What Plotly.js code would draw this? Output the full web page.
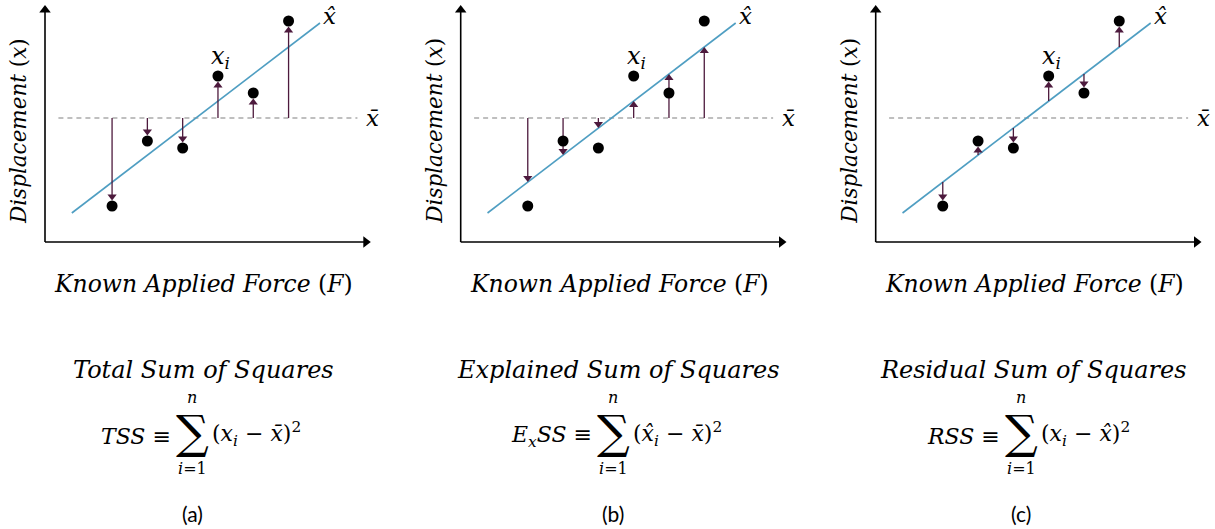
<!DOCTYPE html>
<html>
<head>
<meta charset="utf-8">
<script src="https://cdn.plot.ly/plotly-3.0.1.min.js"></script>
<style>
  html, body { margin: 0; padding: 0; background: #fff; }
  #chart { width: 1215px; height: 529px; }
</style>
</head>
<body>
<div id="chart"></div>
<script>
// Observations: known applied force and measured displacement
const force = [1.9, 2.9, 3.9, 4.9, 5.9, 6.9];
const displacement = [3.6, 10.1, 9.4, 16.6, 14.9, 22.1];
// Values on the fitted line at each force
const fitted = [6.0, 8.7, 11.4, 14.1, 16.8, 19.5];
// Mean displacement (x-bar)
const meanDisp = 12.4;
// Drawn extent of the regression line and of the mean line
const fitLineF = [0.76, 7.79];
const fitLineX = [2.9, 21.9];
const meanLineF = [0.38, 8.85];
// Axis arrow tips
const axisTipF = 9.23;
const axisTipX = 23.7;

const panelNames = ['Total Sum of Squares', 'Explained Sum of Squares', 'Residual Sum of Squares'];
const panelLhs = ['<i>TSS</i> ≡', '<i>E</i><sub><i>x</i></sub><i>SS</i> ≡', '<i>RSS</i> ≡'];
const panelRhs = [
  '(<i>x</i><sub><i>i</i></sub> − <i>x̄</i>)<sup>2</sup>',
  '(<i>x̂</i><sub><i>i</i></sub> − <i>x̄</i>)<sup>2</sup>',
  '(<i>x</i><sub><i>i</i></sub> − <i>x̂</i>)<sup>2</sup>'
];
const panelTags = ['(a)', '(b)', '(c)'];

const W = 1215, H = 529;
const PX_PER_F = 35.3, PX_PER_X = 10;
const X_RANGE = [-1.2, 9.4], Y_RANGE = [-1, 24];
const originPx = [45, 460.7, 875.7];   // left edge (F = 0) of each panel
const baselinePx = 242;                // X = 0 line

const SERIF = 'DejaVu Serif, serif';
const ARROW = '#4d1a3d';
const FIT = '#4f9ec2';
const HEAD = 8;        // deviation arrowhead marker size
const AXIS_HEAD = 10;  // axis arrowhead marker size
const DOT_GAP = 5.5;   // gap between an arrow tip and a dot, px

const px = v => v / W;
const py = v => 1 - v / H;

const data = [];
const annotations = [];
const layout = {
  width: W, height: H,
  margin: {l: 0, r: 0, t: 0, b: 0},
  paper_bgcolor: '#ffffff',
  plot_bgcolor: 'rgba(0,0,0,0)',
  showlegend: false,
  annotations: annotations
};

const hidden = {showgrid: false, zeroline: false, showticklabels: false, showline: false, ticks: '', fixedrange: true};

for (let p = 0; p < 3; p++) {
  const sfx = p === 0 ? '' : String(p + 1);
  const xa = 'x' + sfx, ya = 'y' + sfx;
  const o = originPx[p];
  layout['xaxis' + sfx] = Object.assign({}, hidden, {
    range: X_RANGE,
    domain: [px(o + X_RANGE[0] * PX_PER_F), px(o + X_RANGE[1] * PX_PER_F)],
    anchor: ya
  });
  layout['yaxis' + sfx] = Object.assign({}, hidden, {
    range: Y_RANGE,
    domain: [py(baselinePx - Y_RANGE[0] * PX_PER_X), py(baselinePx - Y_RANGE[1] * PX_PER_X)],
    anchor: xa
  });

  // axes: shafts and arrowheads
  const ahY = axisTipX - (AXIS_HEAD / 2) / PX_PER_X;
  const ahF = axisTipF - (AXIS_HEAD / 2) / PX_PER_F;
  data.push({
    type: 'scatter', mode: 'lines', xaxis: xa, yaxis: ya, cliponaxis: false,
    x: [0, 0, null, 0, ahF], y: [ahY, 0, null, 0, 0],
    line: {color: '#000', width: 1.6}, hoverinfo: 'skip'
  });
  data.push({
    type: 'scatter', mode: 'markers', xaxis: xa, yaxis: ya, cliponaxis: false,
    x: [0, ahF], y: [ahY, 0],
    marker: {symbol: ['triangle-up', 'triangle-right'], size: AXIS_HEAD, color: '#000', line: {width: 0}},
    hoverinfo: 'skip'
  });

  // mean line
  data.push({
    type: 'scatter', mode: 'lines', xaxis: xa, yaxis: ya,
    x: meanLineF, y: [meanDisp, meanDisp],
    line: {color: '#808080', width: 1.2, dash: '5px,4px'},
    hoverinfo: 'skip'
  });
  // regression line
  data.push({
    type: 'scatter', mode: 'lines', xaxis: xa, yaxis: ya,
    x: fitLineF, y: fitLineX,
    line: {color: FIT, width: 1.6},
    hoverinfo: 'skip'
  });

  // deviation arrows
  const sx = [], sy = [], hx = [], hy = [], hs = [];
  for (let i = 0; i < force.length; i++) {
    let tail, head, gap;
    if (p === 0) { tail = meanDisp; head = displacement[i]; gap = DOT_GAP; }
    else if (p === 1) { tail = meanDisp; head = fitted[i]; gap = 0; }
    else { tail = fitted[i]; head = displacement[i]; gap = DOT_GAP; }
    const dir = head >= tail ? 1 : -1;
    const tip = head - dir * gap / PX_PER_X;
    const centre = tip - dir * (HEAD / 2) / PX_PER_X;
    sx.push(force[i], force[i], null);
    sy.push(tail, centre, null);
    hx.push(force[i]);
    hy.push(centre);
    hs.push(dir > 0 ? 'triangle-up' : 'triangle-down');
  }
  data.push({
    type: 'scatter', mode: 'lines', xaxis: xa, yaxis: ya, cliponaxis: false,
    x: sx, y: sy, line: {color: ARROW, width: 1.3}, hoverinfo: 'skip'
  });
  data.push({
    type: 'scatter', mode: 'markers', xaxis: xa, yaxis: ya, cliponaxis: false,
    x: hx, y: hy, marker: {symbol: hs, size: HEAD, color: ARROW, line: {width: 0}},
    hoverinfo: 'skip'
  });

  // observations
  data.push({
    type: 'scatter', mode: 'markers', xaxis: xa, yaxis: ya,
    x: force, y: displacement, cliponaxis: false,
    marker: {color: '#000000', size: 11},
    hoverinfo: 'skip'
  });

  // in-plot labels
  annotations.push({
    xref: xa, yref: ya, x: 8.07, y: 22.6, text: '<i>x̂</i>', showarrow: false,
    font: {family: SERIF, size: 23, color: '#000'}, xanchor: 'center', yanchor: 'middle'
  });
  annotations.push({
    xref: xa, yref: ya, x: 9.28, y: meanDisp, text: '<i>x̄</i>', showarrow: false,
    font: {family: SERIF, size: 23, color: '#000'}, xanchor: 'center', yanchor: 'middle'
  });
  annotations.push({
    xref: xa, yref: ya, x: force[3] + 0.08, y: 18.5, text: '<i>x</i><sub><i>i</i></sub>', showarrow: false,
    font: {family: SERIF, size: 24, color: '#000'}, xanchor: 'center', yanchor: 'middle'
  });

  // axis titles
  annotations.push({
    xref: 'paper', yref: 'paper', x: px(o + 4.5 * PX_PER_F), y: py(284),
    text: '<i>Known Applied Force</i> (<i>F</i>)', showarrow: false,
    font: {family: SERIF, size: 23.5, color: '#000'}, xanchor: 'center', yanchor: 'middle'
  });
  annotations.push({
    xref: 'paper', yref: 'paper', x: px(o - 27), y: py(131),
    text: '<i>Displacement</i> (<i>x</i>)', showarrow: false, textangle: -90,
    font: {family: SERIF, size: 21.5, color: '#000'}, xanchor: 'center', yanchor: 'middle'
  });

  // formula block
  const cx = [203, 618, 1033][p];
  const sigmaX = [192, 613, 1021][p];
  annotations.push({
    xref: 'paper', yref: 'paper', x: px(cx), y: py(370), text: '<i>' + panelNames[p] + '</i>', showarrow: false,
    font: {family: SERIF, size: 24, color: '#000'}, xanchor: 'center', yanchor: 'middle'
  });
  annotations.push({
    xref: 'paper', yref: 'paper', x: px(sigmaX - 19), y: py(436), text: panelLhs[p], showarrow: false,
    font: {family: SERIF, size: 22, color: '#000'}, xanchor: 'right', yanchor: 'middle'
  });
  annotations.push({
    xref: 'paper', yref: 'paper', x: px(sigmaX), y: py(432), text: '∑', showarrow: false,
    font: {family: SERIF, size: 46, color: '#000'}, xanchor: 'center', yanchor: 'middle'
  });
  annotations.push({
    xref: 'paper', yref: 'paper', x: px(sigmaX + 18), y: py(434), text: panelRhs[p], showarrow: false,
    font: {family: SERIF, size: 22, color: '#000'}, xanchor: 'left', yanchor: 'middle'
  });
  annotations.push({
    xref: 'paper', yref: 'paper', x: px(sigmaX), y: py(397), text: '<i>n</i>', showarrow: false,
    font: {family: SERIF, size: 16, color: '#000'}, xanchor: 'center', yanchor: 'middle'
  });
  annotations.push({
    xref: 'paper', yref: 'paper', x: px(sigmaX), y: py(468), text: '<i>i</i>=1', showarrow: false,
    font: {family: SERIF, size: 16, color: '#000'}, xanchor: 'center', yanchor: 'middle'
  });
  annotations.push({
    xref: 'paper', yref: 'paper', x: px(sigmaX), y: py(513), text: panelTags[p], showarrow: false,
    font: {family: 'Lato, Open Sans, sans-serif', size: 21, color: '#000'}, xanchor: 'center', yanchor: 'middle'
  });
}

Plotly.newPlot('chart', data, layout, {staticPlot: true, displayModeBar: false});
</script>
</body>
</html>
